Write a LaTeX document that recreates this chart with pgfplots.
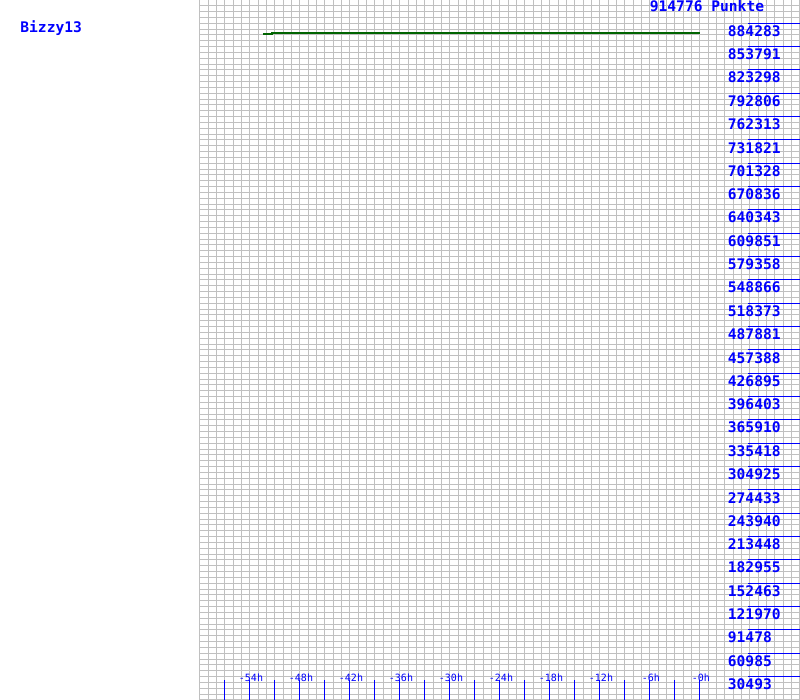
\documentclass[border=0pt]{standalone}
\usepackage{pgfplots}
\pgfplotsset{compat=1.18}
\usepackage{fontspec}
\newfontfamily\mono{DejaVu Sans Mono}
\definecolor{gridgray}{RGB}{192,192,192}
\definecolor{tblue}{RGB}{0,0,255}
\definecolor{dgreen}{RGB}{0,100,0}
\tikzset{
  biglab/.style={inner sep=0pt, text=tblue, font=\mono\bfseries\fontsize{7.3pt}{8pt}\selectfont},
  smalllab/.style={inner sep=0pt, text=tblue, font=\mono\fontsize{5pt}{6pt}\selectfont},
  bluetick/.style={draw=tblue, line width=0.5pt},
}
\begin{document}
\begin{tikzpicture}
\path[use as bounding box] (0,0) rectangle (400pt,350pt);
% grid axis: units = hours (0..72) and grid rows (0..120)
\begin{axis}[
  at={(100pt,0pt)}, anchor=south west,
  scale only axis, width=300pt, height=350pt,
  xmin=0, xmax=72, ymin=0, ymax=120,
  xtick={0,...,72}, ytick={0,...,120},
  xticklabels={}, yticklabels={},
  major tick length=0pt,
  grid=major,
  major grid style={draw=gridgray, line width=0.5pt},
  axis line style={draw=none},
  clip=false,
]
\pgfplotsinvokeforeach{1,...,29}{
  \draw[bluetick] (axis cs:65.76,{4*#1}) -- (axis cs:72,{4*#1});
}
\foreach \kk/\lab in {29/884283,28/853791,27/823298,26/792806,25/762313,24/731821,23/701328,22/670836,21/640343,20/609851,19/579358,18/548866,17/518373,16/487881,15/457388,14/426895,13/396403,12/365910,11/335418,10/304925,9/274433,8/243940,7/213448,6/182955,5/152463,4/121970,3/91478,2/60985,1/30493} {
  \edef\temp{\noexpand\node[biglab, anchor=west] at (axis cs:63.3,{4*\kk-1.32}) {\lab};}
  \temp
}
\pgfplotsinvokeforeach{3,6,...,60}{
  \draw[bluetick] (axis cs:#1,0) -- (axis cs:#1,3.43);
}
\foreach \tt/\lab in {6/-54h,12/-48h,18/-42h,24/-36h,30/-30h,36/-24h,42/-18h,48/-12h,54/-6h,60/-0h} {
  \edef\temp{\noexpand\node[smalllab] at (axis cs:{\tt+0.12},3.86) {\lab};}
  \temp
}
\node[biglab] at (axis cs:60.84,118.89) {914776 Punkte};
\end{axis}
% data axis
\begin{axis}[
  at={(100pt,0pt)}, anchor=south west,
  scale only axis, width=300pt, height=350pt,
  xmin=-60, xmax=12, ymin=0, ymax=914776,
  hide axis,
]
\addplot[const plot, dgreen, line width=1pt] coordinates {
  (-52.44,870343) (-51.36,871650) (0,871650)
};
\end{axis}
\node[biglab, anchor=base west] at (10pt,333.5pt) {Bizzy13};
\end{tikzpicture}
\end{document}
